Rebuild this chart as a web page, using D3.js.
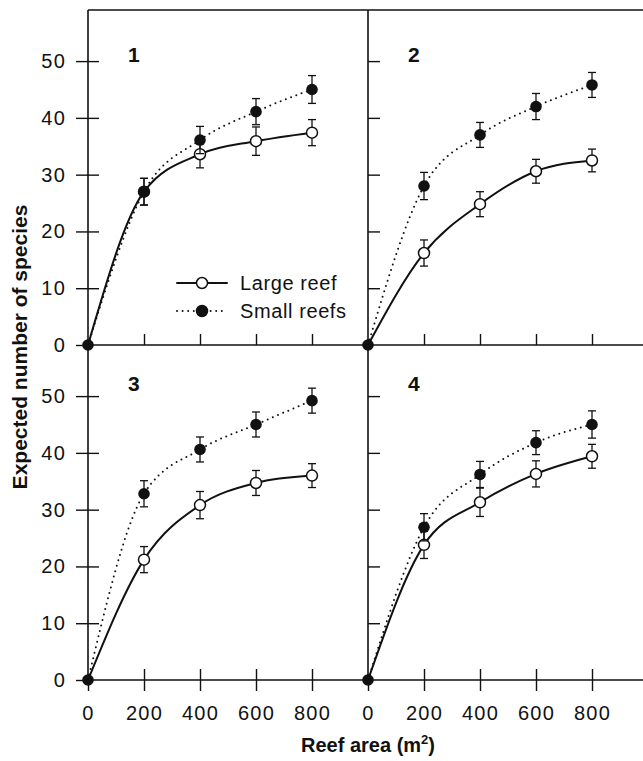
<!DOCTYPE html>
<html>
<head>
<meta charset="utf-8">
<script src="https://cdn.jsdelivr.net/npm/d3@7"></script>
<style>
  body { margin: 0; background: #fff; }
  text { font-family: Arial, "Liberation Sans", sans-serif; fill: #111; }
</style>
</head>
<body>
<div id="chart"></div>
<script>
// reef area sampled (m2)
var areas = [0, 200, 400, 600, 800];
var panelNames = ["1", "2", "3", "4"];

// expected number of species, one row per panel
var largeMean = [
  [0, 27.0, 33.6, 35.9, 37.4],
  [0, 16.2, 24.8, 30.6, 32.5],
  [0, 21.2, 30.8, 34.7, 36.0],
  [0, 23.8, 31.3, 36.3, 39.4]
];
var largeErr = [
  [0, 2.35, 2.4, 2.5, 2.3],
  [0, 2.3, 2.2, 2.1, 2.0],
  [0, 2.3, 2.4, 2.2, 2.1],
  [0, 2.4, 2.5, 2.3, 2.1]
];
var smallMean = [
  [0, 27.0, 36.1, 41.1, 45.0],
  [0, 28.0, 37.0, 42.0, 45.8],
  [0, 32.8, 40.6, 45.0, 49.2],
  [0, 26.9, 36.2, 41.8, 45.0]
];
var smallErr = [
  [0, 2.35, 2.4, 2.3, 2.45],
  [0, 2.4, 2.2, 2.3, 2.2],
  [0, 2.3, 2.2, 2.2, 2.2],
  [0, 2.4, 2.3, 2.1, 2.4]
];

var yTicks = [0, 10, 20, 30, 40, 50];
var xTicks = [0, 200, 400, 600, 800];
var legendNames = ["Large reef", "Small reefs"];

var W = 643, H = 761;
var ink = "#111";
var panelW = 280, panelH = 335;
var left0 = 88, top0 = 10;

var svg = d3.select("#chart").append("svg")
  .attr("width", W)
  .attr("height", H);

function setupAxis(g) {
  g.select(".domain").remove();
  g.selectAll("line").attr("stroke", ink).attr("stroke-width", 1.4);
  g.selectAll("text")
    .style("font-size", "20px")
    .style("letter-spacing", "1.2px")
    .style("font-family", "Arial, 'Liberation Sans', sans-serif")
    .attr("fill", ink);
}

var line = function(x, y) {
  return d3.line()
    .x(function(d) { return x(d[0]); })
    .y(function(d) { return y(d[1]); })
    .curve(d3.curveMonotoneX);
};

panelNames.forEach(function(name, i) {
  var col = i % 2, row = Math.floor(i / 2);
  var px = left0 + col * panelW;
  var py = top0 + row * panelH;

  var x = d3.scaleLinear().domain([0, 1000]).range([px, px + panelW]);
  var y = d3.scaleLinear().domain([0, 59]).range([py + panelH, py]);

  var g = svg.append("g");

  // y ticks
  if (col === 0) {
    g.append("g")
      .attr("transform", "translate(" + px + ",0)")
      .call(d3.axisLeft(y).tickValues(yTicks).tickSize(12).tickPadding(10))
      .call(setupAxis);
    g.append("g")
      .attr("transform", "translate(" + px + ",0)")
      .call(d3.axisRight(y).tickValues(yTicks.slice(1)).tickSize(11).tickFormat(""))
      .call(setupAxis);
  } else {
    g.append("g")
      .attr("transform", "translate(" + px + ",0)")
      .call(d3.axisRight(y).tickValues(yTicks.slice(1)).tickSize(12).tickFormat(""))
      .call(setupAxis);
  }

  // x ticks
  g.append("g")
    .attr("transform", "translate(0," + y(0) + ")")
    .call(d3.axisTop(x).tickValues(xTicks.slice(1)).tickSize(11).tickFormat(""))
    .call(setupAxis);
  if (row === 1) {
    g.append("g")
      .attr("transform", "translate(0," + y(0) + ")")
      .call(d3.axisBottom(x).tickValues(xTicks).tickSize(11).tickPadding(15))
      .call(setupAxis);
  }

  // panel number
  g.append("text")
    .attr("x", px + 40)
    .attr("y", py + (row === 0 ? 52 : 46))
    .style("font-size", "21px")
    .style("font-weight", "bold")
    .text(name);

  var large = areas.map(function(a, j) { return [a, largeMean[i][j], largeErr[i][j]]; });
  var small = areas.map(function(a, j) { return [a, smallMean[i][j], smallErr[i][j]]; });

  g.append("path")
    .datum(large)
    .attr("d", line(x, y))
    .attr("fill", "none")
    .attr("stroke", ink)
    .attr("stroke-width", 2);

  g.append("path")
    .datum(small)
    .attr("d", line(x, y))
    .attr("fill", "none")
    .attr("stroke", ink)
    .attr("stroke-width", 2)
    .attr("stroke-linecap", "round")
    .attr("stroke-dasharray", "0,5.6");

  function errorBars(data) {
    var eb = g.append("g").selectAll("g")
      .data(data.filter(function(d) { return d[2] > 0; }))
      .enter().append("g")
      .attr("stroke", ink)
      .attr("stroke-width", 1.3);
    eb.append("line")
      .attr("x1", function(d) { return x(d[0]); })
      .attr("x2", function(d) { return x(d[0]); })
      .attr("y1", function(d) { return y(d[1] - d[2]); })
      .attr("y2", function(d) { return y(d[1] + d[2]); });
    [-1, 1].forEach(function(s) {
      eb.append("line")
        .attr("x1", function(d) { return x(d[0]) - 4; })
        .attr("x2", function(d) { return x(d[0]) + 4; })
        .attr("y1", function(d) { return y(d[1] + s * d[2]); })
        .attr("y2", function(d) { return y(d[1] + s * d[2]); });
    });
  }

  errorBars(large);
  g.append("g").selectAll("circle")
    .data(large.filter(function(d) { return d[0] > 0; }))
    .enter().append("circle")
    .attr("cx", function(d) { return x(d[0]); })
    .attr("cy", function(d) { return y(d[1]); })
    .attr("r", 5.5)
    .attr("fill", "#fff")
    .attr("stroke", ink)
    .attr("stroke-width", 1.5);

  errorBars(small);
  g.append("g").selectAll("circle")
    .data(small)
    .enter().append("circle")
    .attr("cx", function(d) { return x(d[0]); })
    .attr("cy", function(d) { return y(d[1]); })
    .attr("r", 5.8)
    .attr("fill", ink);
});

// frame lines
var frame = svg.append("g").attr("stroke", ink).attr("stroke-width", 1.6);
[top0, top0 + panelH, top0 + 2 * panelH].forEach(function(yy) {
  frame.append("line").attr("x1", left0).attr("x2", W).attr("y1", yy).attr("y2", yy);
});
[left0, left0 + panelW].forEach(function(xx) {
  frame.append("line").attr("x1", xx).attr("x2", xx).attr("y1", top0).attr("y2", top0 + 2 * panelH);
});

// legend in panel 1
var legend = svg.append("g");
legendNames.forEach(function(n, k) {
  var ly = 283 + k * 28;
  legend.append("line")
    .attr("x1", 177).attr("x2", 227)
    .attr("y1", ly).attr("y2", ly)
    .attr("stroke", ink)
    .attr("stroke-width", 2)
    .attr("stroke-linecap", "round")
    .attr("stroke-dasharray", k === 0 ? null : "0,5.6");
  legend.append("circle")
    .attr("cx", 202).attr("cy", ly)
    .attr("r", 5.5)
    .attr("fill", k === 0 ? "#fff" : ink)
    .attr("stroke", ink)
    .attr("stroke-width", 1.5);
  legend.append("text")
    .attr("x", 240)
    .attr("y", ly + 7)
    .style("font-size", "20px")
    .style("letter-spacing", "0.6px")
    .text(n);
});

// axis titles
svg.append("text")
  .attr("transform", "translate(27," + (top0 + panelH + 2) + ") rotate(-90)")
  .attr("text-anchor", "middle")
  .style("font-size", "21px")
  .style("font-weight", "bold")
  .text("Expected number of species");

var xt = svg.append("text")
  .attr("x", left0 + panelW)
  .attr("y", 752)
  .attr("text-anchor", "middle")
  .style("font-size", "20px")
  .style("font-weight", "bold");
xt.append("tspan").text("Reef area (m");
xt.append("tspan").attr("dy", -8).style("font-size", "13px").text("2");
xt.append("tspan").attr("dy", 8).text(")");
</script>
</body>
</html>
